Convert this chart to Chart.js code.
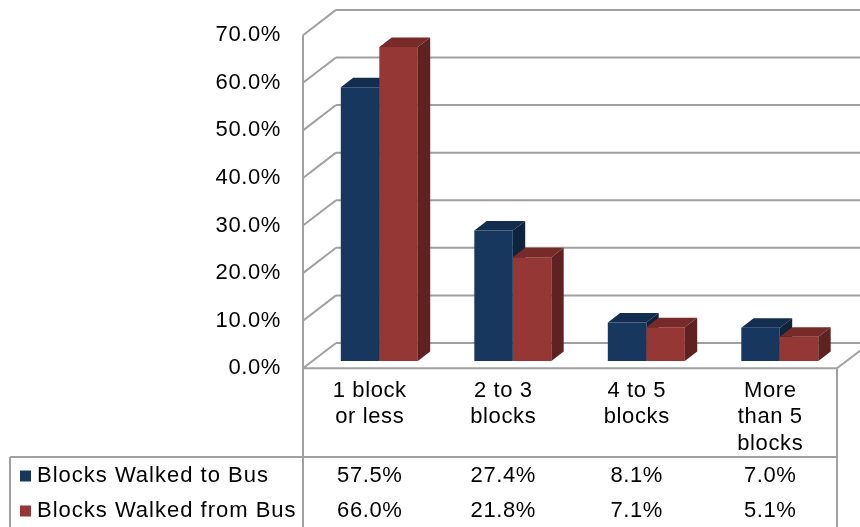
<!DOCTYPE html>
<html>
<head>
<meta charset="utf-8">
<script src="https://cdn.jsdelivr.net/npm/chart.js@4.4.1/dist/chart.umd.min.js"></script>
<style>
  html, body { margin: 0; padding: 0; background: #fff; }
  #wrap { width: 860px; height: 527px; position: relative; }
</style>
</head>
<body>
<div id="wrap"><canvas id="c"></canvas></div>
<script>
// Survey: how many blocks riders walk to / from the bus stop
const categories = [["1 block", "or less"], ["2 to 3", "blocks"], ["4 to 5", "blocks"], ["More", "than 5", "blocks"]];
const walkedToBus = [57.5, 27.4, 8.1, 7.0];
const walkedFromBus = [66.0, 21.8, 7.1, 5.1];
const seriesNames = ["Blocks Walked to Bus", "Blocks Walked from Bus"];
const axisMin = 0, axisMax = 70, axisStep = 10;

const FONT = "'Liberation Sans', Arial, sans-serif";
const TEXT = '#000';
const GRID = '#a0a0a0';
const DEPTH = { x: 33, y: -25.3 };  // depth vector of the floor / side wall
const BAR_Z = 0.29;                 // where the bars' front faces sit in depth
const BAR_D = 0.375;                // bar thickness in depth
const TABLE_TOP = 457;
const ROW_H = 35;

const palette = [
  { front: '#17375e', top: '#122d4e', side: '#0f233d' },
  { front: '#953735', top: '#772b29', side: '#602221' }
];

function line(ctx, x1, y1, x2, y2) {
  ctx.beginPath(); ctx.moveTo(x1, y1); ctx.lineTo(x2, y2); ctx.stroke();
}

// top and right-hand faces of each bar, taken from the bar elements
function drawFaces(ctx, meta, pal) {
  const dx = DEPTH.x * BAR_D, dy = DEPTH.y * BAR_D;
  meta.data.forEach(bar => {
    const { x, y, base, width } = bar.getProps(['x', 'y', 'base', 'width'], true);
    const l = x - width / 2, r = x + width / 2;
    ctx.fillStyle = pal.top;
    ctx.beginPath();
    ctx.moveTo(l, y); ctx.lineTo(l + dx, y + dy); ctx.lineTo(r + dx, y + dy); ctx.lineTo(r, y);
    ctx.closePath(); ctx.fill();
    ctx.fillStyle = pal.side;
    ctx.beginPath();
    ctx.moveTo(r, y); ctx.lineTo(r + dx, y + dy); ctx.lineTo(r + dx, base + dy); ctx.lineTo(r, base);
    ctx.closePath(); ctx.fill();
  });
}

const box3d = {
  id: 'box3d',
  beforeDraw(chart) {
    chart.ctx.letterSpacing = '0.6px';
  },
  beforeDatasetsDraw(chart) {
    const ctx = chart.ctx, ys = chart.scales.y, a = chart.chartArea;
    ctx.save();
    ctx.strokeStyle = GRID;
    ctx.lineWidth = 2;
    // side wall diagonals and back wall gridlines
    for (let v = axisMin; v <= axisMax; v += axisStep) {
      const py = ys.getPixelForValue(v);
      line(ctx, a.left, py, a.left + DEPTH.x, py + DEPTH.y);
      line(ctx, a.left + DEPTH.x, py + DEPTH.y, chart.width, py + DEPTH.y);
    }
    // floor front and right edges
    const p0 = ys.getPixelForValue(axisMin);
    line(ctx, a.left, p0, a.right, p0);
    line(ctx, a.right, p0, a.right + DEPTH.x, p0 + DEPTH.y);
    // front edge of the side wall, continuing as the table divider
    line(ctx, a.left, ys.getPixelForValue(axisMax), a.left, chart.height);
    ctx.restore();

    ctx.save();
    ctx.translate(DEPTH.x * BAR_Z, DEPTH.y * BAR_Z);
    drawFaces(ctx, chart.getDatasetMeta(0), palette[0]);
  },
  afterDatasetDraw(chart, args) {
    if (args.index === 1) drawFaces(chart.ctx, args.meta, palette[1]);
  },
  afterDatasetsDraw(chart) {
    chart.ctx.restore();
  },
  afterDraw(chart) {
    const ctx = chart.ctx, xs = chart.scales.x, ys = chart.scales.y, a = chart.chartArea;
    const p0 = ys.getPixelForValue(axisMin);
    ctx.save();
    ctx.strokeStyle = GRID;
    ctx.lineWidth = 2;
    line(ctx, 10, TABLE_TOP, a.right, TABLE_TOP);
    line(ctx, 10, TABLE_TOP, 10, chart.height);
    line(ctx, a.right, p0, a.right, chart.height);

    ctx.font = '22px ' + FONT;
    ctx.fillStyle = TEXT;
    ctx.textBaseline = 'middle';
    const rows = [walkedToBus, walkedFromBus];
    rows.forEach((vals, r) => {
      const cy = TABLE_TOP + ROW_H * r + 19;
      ctx.fillStyle = palette[r].front;
      ctx.fillRect(20, cy - 5.5, 11, 11);
      ctx.fillStyle = TEXT;
      ctx.textAlign = 'left';
      ctx.letterSpacing = '1px';
      ctx.fillText(seriesNames[r], 37, cy);
      ctx.letterSpacing = '0.6px';
      ctx.textAlign = 'center';
      vals.forEach((v, i) => ctx.fillText(v.toFixed(1) + '%', xs.getPixelForValue(i), cy));
    });
    ctx.restore();
  }
};

new Chart(document.getElementById('c'), {
  type: 'bar',
  data: {
    labels: categories,
    datasets: [
      { label: seriesNames[0], data: walkedToBus, backgroundColor: palette[0].front, borderWidth: 0,
        categoryPercentage: 0.577, barPercentage: 1 },
      { label: seriesNames[1], data: walkedFromBus, backgroundColor: palette[1].front, borderWidth: 0,
        categoryPercentage: 0.577, barPercentage: 1 }
    ]
  },
  options: {
    responsive: true,
    maintainAspectRatio: false,
    devicePixelRatio: 1,
    animation: false,
    layout: { padding: { left: 0, top: 33.3, right: 23, bottom: 527 - TABLE_TOP } },
    plugins: { legend: { display: false }, tooltip: { enabled: false } },
    scales: {
      x: {
        grid: { display: false, drawTicks: false },
        border: { display: false },
        ticks: { font: { family: FONT, size: 22 }, color: TEXT, padding: 9.5, maxRotation: 0, autoSkip: false },
        afterFit(s) { s.height = TABLE_TOP - 368.3; }
      },
      y: {
        min: axisMin, max: axisMax,
        grid: { display: false, drawTicks: false },
        border: { display: false },
        ticks: { stepSize: axisStep, font: { family: FONT, size: 22 }, color: TEXT, padding: 22,
                 callback: v => v.toFixed(1) + '%' },
        afterFit(s) { s.width = 303; }
      }
    }
  },
  plugins: [box3d]
});
</script>
</body>
</html>
